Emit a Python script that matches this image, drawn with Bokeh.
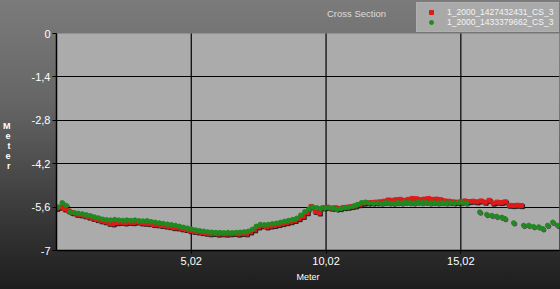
from bokeh.plotting import figure
from bokeh.models import Range1d, FixedTicker, Label, Legend, LegendItem, BoxAnnotation
from bokeh.embed import file_html
from bokeh.resources import INLINE

# ---- data ----
red_name = "1_2000_1427432431_CS_3"
green_name = "1_2000_1433379662_CS_3"

red_x = [0.02, 0.17, 0.32, 0.47, 0.62, 0.77, 0.92, 1.07, 1.22, 1.37, 1.52, 1.67, 1.82, 1.97, 2.12, 2.27,
         2.42, 2.57, 2.72, 2.87, 3.02, 3.17, 3.32, 3.47, 3.62, 3.77, 3.92, 4.07, 4.22, 4.37, 4.52, 4.67,
         4.82, 4.97, 5.12, 5.27, 5.42, 5.57, 5.72, 5.87, 6.02, 6.17, 6.32, 6.47, 6.62, 6.77, 6.92, 7.07,
         7.22, 7.37, 7.52, 7.67, 7.82, 7.97, 8.12, 8.27, 8.42, 8.57, 8.72, 8.87, 9.02, 9.17, 9.32, 9.47,
         9.62, 9.77, 9.92, 10.07, 10.22, 10.37, 10.52, 10.67, 10.82, 10.97, 11.12, 11.27, 11.42, 11.57,
         11.72, 11.87, 12.02, 12.17, 12.32, 12.47, 12.62, 12.77, 12.92, 13.07, 13.22, 13.37, 13.52, 13.67,
         13.82, 13.97, 14.12, 14.27, 14.42, 14.57, 14.72, 14.87, 15.02, 15.17, 15.32, 15.47, 15.62, 15.77,
         15.92, 16.07, 16.22, 16.37, 16.52, 16.67, 16.82, 16.97, 17.12, 17.27]
red_y = [-5.64, -5.60, -5.66, -5.72, -5.78, -5.83, -5.85, -5.88, -5.92, -5.96, -6.00, -6.04, -6.07, -6.12,
         -6.14, -6.10, -6.09, -6.11, -6.09, -6.10, -6.08, -6.11, -6.12, -6.13, -6.16, -6.17, -6.19, -6.21,
         -6.23, -6.26, -6.27, -6.30, -6.32, -6.36, -6.38, -6.40, -6.42, -6.44, -6.46, -6.45, -6.47, -6.46,
         -6.47, -6.46, -6.45, -6.47, -6.45, -6.46, -6.40, -6.33, -6.24, -6.20, -6.24, -6.21, -6.19, -6.16,
         -6.13, -6.10, -6.07, -6.03, -5.97, -5.90, -5.78, -5.58, -5.74, -5.79, -5.62, -5.60, -5.63, -5.62,
         -5.64, -5.61, -5.60, -5.58, -5.56, -5.52, -5.47, -5.46, -5.45, -5.44, -5.43, -5.41, -5.37, -5.38,
         -5.36, -5.35, -5.38, -5.35, -5.32, -5.33, -5.36, -5.34, -5.32, -5.35, -5.34, -5.36, -5.40, -5.41,
         -5.43, -5.44, -5.43, -5.40, -5.42, -5.41, -5.43, -5.40, -5.44, -5.38, -5.47, -5.44, -5.45, -5.43,
         -5.54, -5.55, -5.54, -5.55]

green_x = [0.08, 0.23, 0.38, 0.53, 0.68, 0.83, 0.98, 1.13, 1.28, 1.43, 1.58, 1.73, 1.88, 2.03, 2.18, 2.33,
           2.48, 2.63, 2.78, 2.93, 3.08, 3.23, 3.38, 3.53, 3.68, 3.83, 3.98, 4.13, 4.28, 4.43, 4.58, 4.73,
           4.88, 5.03, 5.18, 5.33, 5.48, 5.63, 5.78, 5.93, 6.08, 6.23, 6.38, 6.53, 6.68, 6.83, 6.98, 7.13,
           7.28, 7.43, 7.58, 7.73, 7.88, 8.03, 8.18, 8.33, 8.48, 8.63, 8.78, 8.93, 9.08, 9.23, 9.38, 9.53,
           9.68, 9.83, 9.98, 10.13, 10.28, 10.43, 10.58, 10.73, 10.88, 11.03, 11.18, 11.33, 11.48, 11.63,
           11.78, 11.93, 12.08, 12.23, 12.38, 12.53, 12.68, 12.83, 12.98, 13.13, 13.28, 13.43, 13.58, 13.73,
           13.88, 14.03, 14.18, 14.33, 14.48, 14.63, 14.78, 14.93, 15.08, 15.23,
           15.72, 15.98, 16.17, 16.35, 16.54, 16.65, 16.98, 17.35, 17.54, 17.72, 17.91, 18.06, 18.24,
           18.43, 18.61]
green_y = [-5.60, -5.46, -5.55, -5.76, -5.78, -5.80, -5.82, -5.85, -5.88, -5.92, -5.95, -5.99, -6.01, -6.02,
           -6.00, -6.02, -6.03, -6.02, -6.03, -6.02, -6.04, -6.05, -6.04, -6.07, -6.09, -6.11, -6.13, -6.15,
           -6.17, -6.19, -6.22, -6.25, -6.28, -6.31, -6.34, -6.36, -6.38, -6.40, -6.41, -6.42, -6.42, -6.43,
           -6.42, -6.43, -6.42, -6.41, -6.40, -6.38, -6.32, -6.22, -6.16, -6.17, -6.16, -6.14, -6.12, -6.09,
           -6.06, -6.03, -6.00, -5.96, -5.86, -5.75, -5.66, -5.60, -5.62, -5.64, -5.63, -5.62, -5.64, -5.67,
           -5.65, -5.62, -5.60, -5.57, -5.52, -5.46, -5.44, -5.47, -5.48, -5.47, -5.48, -5.46, -5.47, -5.48,
           -5.46, -5.47, -5.45, -5.46, -5.47, -5.45, -5.46, -5.45, -5.47, -5.46, -5.47, -5.46, -5.47, -5.46,
           -5.47, -5.46, -5.45, -5.47,
           -5.76, -5.84, -5.87, -5.90, -5.93, -5.97, -6.11, -6.19, -6.19, -6.23, -6.24, -6.30, -6.19,
           -6.09, -6.19]

y_min, y_max = -7, 0
x_min, x_max = 0.02, 18.68
y_ticks = [0, -1.4, -2.8, -4.2, -5.6, -7]
y_tick_labels = ["0", "-1,4", "-2,8", "-4,2", "-5,6", "-7"]
x_ticks = [5.02, 10.02, 15.02]
x_tick_labels = ["5,02", "10,02", "15,02"]

title_text = "Cross Section"
x_label = "Meter"
y_label = "Meter"

RED = "#e01a1a"
GREEN = "#1f8a1f"
SHADOW = "#1a1a1a"
FONT = "Liberation Sans"

W, H = 560, 289
TOP_PX = 33            # header band above the plot area (legend and title live there)
PX_PER_UNIT = 217 / 7.0
p = figure(width=W, height=H, output_backend="svg", toolbar_location=None, title=None,
           x_range=Range1d(x_min, x_max), y_range=Range1d(y_min, y_max + TOP_PX / PX_PER_UNIT),
           min_border_left=56, min_border_right=1, min_border_top=0, min_border_bottom=39)
p.styles = {"background": "linear-gradient(to bottom, #7b7b7b 0%, #666666 35%, #3e3e3e 70%, #1d1d1d 100%)"}
p.border_fill_alpha = 0
p.background_fill_alpha = 0
p.outline_line_color = None

# plot area fill
p.add_layout(BoxAnnotation(bottom=y_min, top=y_max, fill_color="#ababab", fill_alpha=1,
                           line_color=None, level="image"))

for ax in (p.xaxis[0], p.yaxis[0]):
    ax.axis_line_color = "black"
    ax.axis_line_width = 1.5
    ax.major_tick_line_color = "black"
    ax.major_tick_in = 0
    ax.minor_tick_line_color = None
    ax.major_label_text_color = "white"
    ax.major_label_text_font = FONT
    ax.major_label_text_font_size = "11px"

p.xaxis.ticker = FixedTicker(ticks=x_ticks)
p.xaxis.major_label_overrides = dict(zip(x_ticks, x_tick_labels))
p.xaxis.major_tick_out = 3
p.xaxis.major_label_standoff = 3
p.xaxis.axis_label = x_label
p.xaxis.axis_label_text_color = "white"
p.xaxis.axis_label_text_font = FONT
p.xaxis.axis_label_text_font_size = "9px"
p.xaxis.axis_label_text_font_style = "normal"
p.xaxis.axis_label_standoff = 4

p.yaxis.ticker = FixedTicker(ticks=y_ticks)
p.yaxis.major_label_overrides = dict(zip(y_ticks, y_tick_labels))
p.yaxis.major_tick_out = 4
p.yaxis.major_label_standoff = 2
p.yaxis.bounds = (y_min, y_max)
# stacked letters; leading blank lines push the block down to the reference position
p.yaxis.axis_label = "\n\n\n\n" + "\n".join(y_label)
p.yaxis.axis_label_text_color = "white"
p.yaxis.axis_label_text_font = FONT
p.yaxis.axis_label_text_font_size = "9px"
p.yaxis.axis_label_text_font_style = "bold"
p.yaxis.axis_label_text_line_height = 1.0
p.yaxis.axis_label_standoff = 18
try:
    p.yaxis.axis_label_orientation = "horizontal"
except Exception:
    pass

p.xgrid.visible = False
p.ygrid.grid_line_color = "black"
p.ygrid.grid_line_width = 1.2
p.ygrid.ticker = FixedTicker(ticks=y_ticks[1:])
# vertical grid lines limited to the plot area
p.segment(x0=x_ticks, y0=[y_min] * len(x_ticks), x1=x_ticks, y1=[y_max] * len(x_ticks),
          line_color="black", line_width=1.2)

# shadows (1 px down-right)
dx, dy = 0.04, -0.035
p.scatter([x + dx for x in red_x], [y + dy for y in red_y], marker="square", size=4,
          color=SHADOW, alpha=0.85)
p.scatter([x + dx for x in green_x], [y + dy for y in green_y], marker="circle", size=4.5,
          color=SHADOW, alpha=0.45)
r_red = p.scatter(red_x, red_y, marker="square", size=4, color=RED)
r_green = p.scatter(green_x, green_y, marker="circle", size=4.5, color=GREEN)

legend = Legend(items=[LegendItem(label=red_name, renderers=[r_red]),
                       LegendItem(label=green_name, renderers=[r_green])],
                location=(360, 218))
legend.background_fill_color = "#a9a9a9"
legend.background_fill_alpha = 1
legend.border_line_color = "#b8b8b8"
legend.label_text_color = "#f4f4f4"
legend.label_text_font = FONT
legend.label_text_font_size = "8.5px"
legend.label_height = 10
legend.label_width = 108
legend.glyph_height = 10
legend.glyph_width = 20
legend.label_standoff = 6
legend.spacing = 0
legend.padding = 4
legend.margin = 0
p.add_layout(legend)

p.add_layout(Label(x=300, y=237, x_units="screen", y_units="screen", text=title_text,
                   text_color="#dcdcdc", text_font=FONT, text_font_size="9.5px",
                   text_align="center", text_baseline="middle"))

open("out.html", "w").write(file_html(p, INLINE))
